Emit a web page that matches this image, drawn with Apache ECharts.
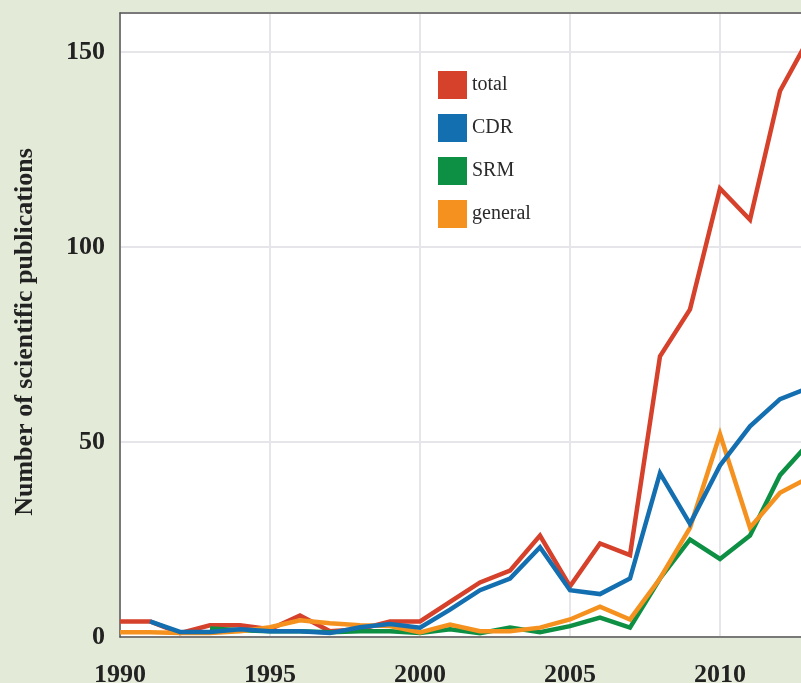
<!DOCTYPE html>
<html>
<head>
<meta charset="utf-8">
<script src="https://cdn.jsdelivr.net/npm/echarts@6/dist/echarts.min.js"></script>
<style>
  html, body { margin: 0; padding: 0; background: #e3ebd8; }
  #chart { width: 801px; height: 683px; }
</style>
</head>
<body>
<div id="chart"></div>
<script>
const years = ['1990', '1991', '1992', '1993', '1994', '1995', '1996', '1997', '1998', '1999',
  '2000', '2001', '2002', '2003', '2004', '2005', '2006', '2007', '2008', '2009',
  '2010', '2011', '2012', '2013'];
const total = [4, 4, 1, 3, 3, 2, 5.5, 1.5, 2, 4, 4, 9, 14, 17, 26, 13, 24, 21, 72, 84, 115, 107, 140, 154];
const cdr = [null, 4, 1.3, 1.3, 2, 1.5, 1.5, 1, 2.5, 3.3, 2.4, 7, 12, 15, 23, 12, 11, 15, 42, 29, 44, 54, 61, 64];
const srm = [null, null, null, 2.2, 1.7, 1.5, 1.5, 1.2, 1.5, 1.5, 1, 2, 1, 2.4, 1.2, 2.8, 5, 2.4, 15, 25, 20, 26, 41.5, 50];
const general = [1.2, 1.2, 1, 1, 1.5, 2.5, 4.3, 3.5, 3, 2.8, 1.2, 3.2, 1.5, 1.5, 2.4, 4.5, 7.8, 4.5, 15, 28, 52, 28, 37, 41];
const legendNames = ['total', 'CDR', 'SRM', 'general'];

const colors = {
  total: '#d5412b',
  CDR: '#146fb1',
  SRM: '#0d9044',
  general: '#f5921f'
};

const frameLine = { show: true, lineStyle: { color: '#555555', width: 1.5 } };

const chart = echarts.init(document.getElementById('chart'));

function line(name, values) {
  return {
    name: name,
    type: 'line',
    xAxisIndex: 0,
    data: values,
    symbol: 'none',
    connectNulls: false,
    lineStyle: { width: 4.5, color: colors[name], join: 'miter' },
    itemStyle: { color: colors[name] }
  };
}

const option = {
  backgroundColor: '#e3ebd8',
  animation: false,
  textStyle: { fontFamily: 'Liberation Serif' },
  grid: {
    left: 120,
    top: 13,
    width: 690,
    bottom: 46,
    outerBoundsMode: 'none',
    show: true,
    backgroundColor: '#ffffff',
    borderWidth: 0
  },
  legend: {
    data: legendNames,
    orient: 'vertical',
    left: 438,
    top: 71,
    padding: 0,
    icon: 'rect',
    itemWidth: 29,
    itemHeight: 28,
    itemGap: 15,
    textStyle: { fontSize: 20, color: '#2a2a2a', fontFamily: 'Liberation Serif' }
  },
  xAxis: [
    {
      type: 'category',
      data: years,
      boundaryGap: false,
      axisLine: frameLine,
      axisTick: { show: false },
      axisLabel: {
        interval: 4,
        margin: 25,
        fontSize: 26,
        fontWeight: 'bold',
        color: '#222222',
        fontFamily: 'Liberation Serif'
      },
      splitLine: { show: true, interval: 4, lineStyle: { color: '#e6e6ea', width: 2 } }
    },
    {
      type: 'category',
      data: years,
      position: 'top',
      boundaryGap: false,
      axisLine: frameLine,
      axisTick: { show: false },
      axisLabel: { show: false },
      splitLine: { show: false }
    }
  ],
  yAxis: {
    type: 'value',
    min: 0,
    max: 160,
    interval: 50,
    name: 'Number of scientific publications',
    nameLocation: 'middle',
    nameGap: 82,
    nameTextStyle: {
      fontSize: 26,
      fontWeight: 'bold',
      color: '#222222',
      fontFamily: 'Liberation Serif',
      padding: [0, 14, 0, 0]
    },
    axisLine: frameLine,
    axisTick: { show: false },
    axisLabel: {
      showMaxLabel: false,
      margin: 15,
      fontSize: 26,
      fontWeight: 'bold',
      color: '#222222',
      fontFamily: 'Liberation Serif'
    },
    splitLine: { lineStyle: { color: '#e6e6ea', width: 2 } }
  },
  series: [
    line('total', total),
    line('SRM', srm),
    line('general', general),
    line('CDR', cdr)
  ]
};

chart.setOption(option);
window.addEventListener('resize', chart.resize);
</script>
</body>
</html>
